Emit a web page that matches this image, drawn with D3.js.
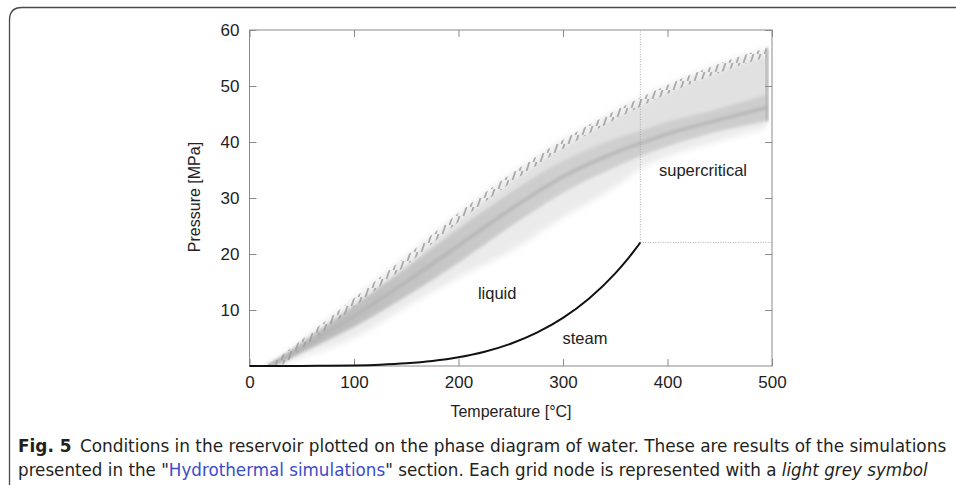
<!DOCTYPE html>
<html>
<head>
<meta charset="utf-8">
<script src="https://cdn.jsdelivr.net/npm/d3@7"></script>
<style>
  html, body { margin: 0; padding: 0; background: #fff; }
  svg { display: block; }
</style>
</head>
<body>
<svg id="chart" width="956" height="485"></svg>
<script>
// ---------- data ----------
const xTicks = [0, 100, 200, 300, 400, 500];
const yTicks = [10, 20, 30, 40, 50, 60];
// Saturation (boiling) curve of water: temperature [°C], pressure [MPa]
const satT = [0, 25, 50, 75, 100, 125, 150, 175, 200, 225, 250, 275, 300, 325, 350, 360, 370, 374];
const satP = [0.0006, 0.0032, 0.0123, 0.0386, 0.101, 0.232, 0.476, 0.892, 1.555, 2.548, 3.976, 5.949, 8.588, 12.05, 16.53, 18.67, 21.04, 22.06];
const critT = 374;
const critP = 22.06;
// Point cloud of simulated grid-node conditions (envelopes)
const cloudT   = [18, 30, 50, 100, 150, 200, 250, 300, 350, 374, 400, 450, 495];
const cloudUp  = [0.2, 1.8, 4.7, 12.1, 19.6, 27.3, 34.3, 40.4, 45.6, 47.9, 50.2, 54.0, 56.8];
const cloudLow = [0.0, 0.3, 1.5, 5.0, 10.5, 15.8, 20.5, 26.5, 32.0, 35.2, 37.4, 40.2, 42.5];
const coreHi   = [0.2, 1.6, 4.2, 10.8, 17.5, 24.5, 31.0, 36.6, 40.6, 42.0, 43.6, 46.0, 48.5];
const coreLo   = [0.0, 0.6, 2.4, 7.0, 12.5, 18.5, 25.0, 31.0, 35.6, 37.5, 39.3, 42.0, 43.8];
const regionLabels = ["liquid", "steam", "supercritical"];
const regionT = [237, 321, 434];
const regionP = [13, 5, 35];

// ---------- layout ----------
const svg = d3.select("#chart");
const x = d3.scaleLinear().domain([0, 500]).range([249.5, 772]);
const y = d3.scaleLinear().domain([0, 60]).range([366, 30]);
const frameCol = "#8a8a8a";
const labFont = "'Liberation Sans', Arial, sans-serif";

// outer figure box (rounded top-left corner)
svg.append("path")
  .attr("d", "M9.5,490 L9.5,20 Q9.5,7.5 22,7.5 L960,7.5")
  .attr("fill", "none").attr("stroke", "#4a4a4a").attr("stroke-width", 1.3);

const defs = svg.append("defs");
defs.append("filter").attr("id", "soft").attr("x", "-5%").attr("y", "-5%").attr("width", "110%").attr("height", "110%")
  .append("feGaussianBlur").attr("stdDeviation", 1.8);
defs.append("filter").attr("id", "soft2").attr("x", "-5%").attr("y", "-5%").attr("width", "110%").attr("height", "110%")
  .append("feGaussianBlur").attr("stdDeviation", 3);
const pat = defs.append("pattern").attr("id", "teeth")
  .attr("patternUnits", "userSpaceOnUse").attr("width", 7).attr("height", 9);
pat.append("line").attr("x1", 1.5).attr("y1", 9).attr("x2", 4.5).attr("y2", 0)
  .attr("stroke", "#9c9c9c").attr("stroke-width", 1.8);
const grad = defs.append("linearGradient").attr("id", "coreGrad")
  .attr("gradientUnits", "userSpaceOnUse").attr("x1", x(0)).attr("x2", x(500)).attr("y1", 0).attr("y2", 0);
[[0, "#a9a9a9"], [0.3, "#bdbdbd"], [0.6, "#cbcbcb"], [1, "#c8c8c8"]].forEach(s =>
  grad.append("stop").attr("offset", s[0]).attr("stop-color", s[1]));

const clip = defs.append("clipPath").attr("id", "plotclip");
clip.append("rect").attr("x", x(0)).attr("y", y(60)).attr("width", x(500) - x(0)).attr("height", y(0) - y(60));

const cloud = cloudT.map((t, i) => ({ t, up: cloudUp[i], low: cloudLow[i], hi: coreHi[i], lo: coreLo[i],
  mid: (coreHi[i] + coreLo[i]) / 2, upIn: Math.max(cloudUp[i] - 1.6, 0) }));
const g = svg.append("g").attr("clip-path", "url(#plotclip)");

const area = (a, b) => d3.area().x(d => x(d.t)).y0(d => y(d[a])).y1(d => y(d[b])).curve(d3.curveMonotoneX);
g.append("path").datum(cloud).attr("d", area("low", "up"))
  .attr("fill", "#ebebeb").attr("filter", "url(#soft2)");
g.append("path").datum(cloud).attr("d", area("lo", "upIn"))
  .attr("fill", "#e1e1e1").attr("filter", "url(#soft)");
g.append("path").datum(cloud).attr("d", area("lo", "hi"))
  .attr("fill", "url(#coreGrad)").attr("opacity", 0.8).attr("filter", "url(#soft)");
g.append("path").datum(cloud)
  .attr("d", d3.line().x(d => x(d.t)).y(d => y(d.mid)).curve(d3.curveMonotoneX))
  .attr("fill", "none").attr("stroke", "#b4b4b4").attr("stroke-width", 3).attr("filter", "url(#soft)");
// comb-like texture along the upper edge
g.append("path").datum(cloud).attr("d", area("upIn", "up"))
  .attr("fill", "url(#teeth)").attr("opacity", 0.85);
// darker right-end column of nodes
const lastI = cloud.length - 1;
g.append("rect")
  .attr("x", x(cloud[lastI].t) - 1.5).attr("width", 3)
  .attr("y", y(cloud[lastI].up)).attr("height", y(cloud[lastI].lo) - y(cloud[lastI].up))
  .attr("fill", "#acacac").attr("filter", "url(#soft)");

// critical point dotted lines
svg.append("line").attr("x1", x(critT)).attr("x2", x(critT)).attr("y1", y(critP)).attr("y2", y(60))
  .attr("stroke", "#999").attr("stroke-width", 0.8).attr("stroke-dasharray", "1,1.5");
svg.append("line").attr("x1", x(critT)).attr("x2", x(500)).attr("y1", y(critP)).attr("y2", y(critP))
  .attr("stroke", "#999").attr("stroke-width", 0.8).attr("stroke-dasharray", "1,1.5");

// frame
svg.append("rect").attr("x", x(0)).attr("y", y(60)).attr("width", x(500) - x(0)).attr("height", y(0) - y(60))
  .attr("fill", "none").attr("stroke", frameCol).attr("stroke-width", 1);

// axes (inward ticks, mirrored)
const tickLen = 7;
const axB = svg.append("g").attr("transform", `translate(0,${y(0)})`)
  .call(d3.axisBottom(x).tickValues(xTicks).tickSize(-tickLen).tickPadding(10));
const axT = svg.append("g").attr("transform", `translate(0,${y(60)})`)
  .call(d3.axisTop(x).tickValues(xTicks).tickSize(-tickLen).tickFormat(""));
const axL = svg.append("g").attr("transform", `translate(${x(0)},0)`)
  .call(d3.axisLeft(y).tickValues(yTicks).tickSize(-tickLen).tickPadding(10));
const axR = svg.append("g").attr("transform", `translate(${x(500)},0)`)
  .call(d3.axisRight(y).tickValues(yTicks).tickSize(-tickLen).tickFormat(""));
[axB, axT, axL, axR].forEach(a => {
  a.select(".domain").remove();
  a.attr("font-family", labFont).attr("font-size", 17);
  a.selectAll(".tick line").attr("stroke", frameCol);
  a.selectAll("text").attr("fill", "#222");
});

// saturation curve
const sat = satT.map((t, i) => ({ t, p: satP[i] }));
svg.append("path").datum(sat)
  .attr("d", d3.line().x(d => x(d.t)).y(d => y(d.p)).curve(d3.curveMonotoneX))
  .attr("fill", "none").attr("stroke", "#111").attr("stroke-width", 2);

// region labels
svg.selectAll(".rlab").data(regionLabels).enter().append("text")
  .attr("class", "rlab")
  .attr("x", (d, i) => x(regionT[i])).attr("y", (d, i) => y(regionP[i]))
  .attr("text-anchor", "middle").attr("dy", "0.36em")
  .attr("font-family", labFont).attr("font-size", 16.5).attr("fill", "#222")
  .text(d => d);

// axis titles
svg.append("text").attr("x", 511).attr("y", 417).attr("text-anchor", "middle")
  .attr("font-family", labFont).attr("font-size", 16).attr("fill", "#222")
  .text("Temperature [°C]");
svg.append("text").attr("transform", "translate(200,197) rotate(-90)").attr("text-anchor", "middle")
  .attr("font-family", labFont).attr("font-size", 16).attr("fill", "#222")
  .text("Pressure [MPa]");

// caption
const capFont = "'Liberation Sans Narrow', 'DejaVu Sans Condensed', 'Open Sans', sans-serif";
function captionLine(yBase, parts, x0, x1) {
  const t = svg.append("text").attr("x", 0).attr("y", 0)
    .attr("font-family", capFont).attr("font-size", 18.5).attr("fill", "#231f20")
    .attr("font-stretch", "condensed");
  parts.forEach(p => {
    const s = t.append("tspan").text(p.text);
    if (p.bold) s.attr("font-weight", "bold");
    if (p.italic) s.attr("font-style", "italic");
    if (p.color) s.attr("fill", p.color);
  });
  const w = t.node().getComputedTextLength();
  t.attr("transform", `translate(${x0},${yBase}) scale(${(x1 - x0) / w},1)`);
}
captionLine(452, [
  { text: "Fig. 5", bold: true },
  { text: "\u2002Conditions in the reservoir plotted on the phase diagram of water. These are results of the simulations" }
], 18, 947);
captionLine(476, [
  { text: "presented in the \"" },
  { text: "Hydrothermal simulations", color: "#3b4cc8" },
  { text: "\" section. Each grid node is represented with a " },
  { text: "light grey symbol", italic: true }
], 18, 928);
</script>
</body>
</html>
